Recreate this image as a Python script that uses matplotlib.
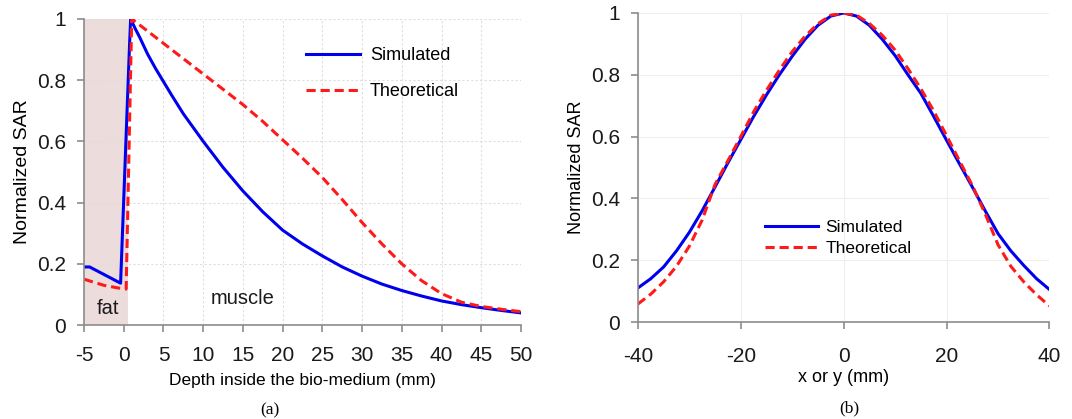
import matplotlib
matplotlib.use("Agg")
import matplotlib.pyplot as plt
from matplotlib.ticker import FuncFormatter

plt.rcParams['font.family'] = ['Liberation Sans', 'DejaVu Sans']
plt.rcParams['axes.unicode_minus'] = False

# (a) depth profile
depth_sim = [-5, -4.3, -0.4, 0.85, 1.5, 2, 3, 4, 5, 6, 7.5, 10, 12.5, 15, 17.5, 20,
             22.5, 25, 27.5, 30, 32.5, 35, 37.5, 40, 42.5, 45, 47.5, 50]
sar_sim_a = [0.19, 0.19, 0.137, 1.0, 0.965, 0.94, 0.885, 0.838, 0.795, 0.752,
             0.69, 0.60, 0.515, 0.438, 0.37, 0.31, 0.265, 0.226, 0.19, 0.16,
             0.134, 0.113, 0.095, 0.079, 0.067, 0.057, 0.048, 0.04]
depth_th = [-5, -2.5, 0.0, 0.3, 1.0, 2.5, 5, 7.5, 10, 12.5, 15, 17.5, 20, 22.5, 25,
            27.5, 30, 32.5, 35, 37.5, 40, 42.5, 45, 47.5, 50]
sar_th_a = [0.15, 0.13, 0.118, 0.118, 1.0, 0.97, 0.92, 0.87, 0.82, 0.77, 0.72,
            0.665, 0.605, 0.545, 0.482, 0.41, 0.335, 0.265, 0.20, 0.145, 0.103,
            0.075, 0.061, 0.052, 0.044]
fat_range = (-5, 0.5)

# (b) lateral profile
pos = [-40, -37.5, -35, -32.5, -30, -27.5, -25, -22.5, -20, -17.5, -15, -12.5, -10,
       -7.5, -5, -2.5, 0, 2.5, 5, 7.5, 10, 12.5, 15, 17.5, 20, 22.5, 25, 27.5, 30,
       32.5, 35, 37.5, 40]
sar_sim_b = [0.11, 0.14, 0.178, 0.23, 0.29, 0.36, 0.437, 0.515, 0.59, 0.665, 0.735,
             0.80, 0.86, 0.915, 0.96, 0.99, 1.0, 0.99, 0.96, 0.915, 0.862, 0.80,
             0.74, 0.665, 0.588, 0.512, 0.437, 0.36, 0.286, 0.23, 0.183, 0.14, 0.105]
sar_th_b = [0.058, 0.09, 0.13, 0.18, 0.245, 0.33, 0.445, 0.522, 0.60, 0.68, 0.75,
            0.815, 0.875, 0.925, 0.965, 0.993, 1.0, 0.993, 0.966, 0.928, 0.88,
            0.82, 0.755, 0.683, 0.603, 0.522, 0.442, 0.35, 0.25, 0.18, 0.13, 0.088,
            0.052]

fig = plt.figure(figsize=(10.72, 4.19), dpi=100)
ax1 = fig.add_axes([0.0784, 0.224, 0.4076, 0.731])
ax2 = fig.add_axes([0.595, 0.2315, 0.384, 0.7375])

fmt = FuncFormatter(lambda v, p: '%g' % round(v, 2))

for ax in (ax1, ax2):
    for s in ('top', 'right'):
        ax.spines[s].set_visible(False)
    for s in ('left', 'bottom'):
        ax.spines[s].set_color('#8c8c8c')
        ax.spines[s].set_linewidth(1.2)
    ax.tick_params(direction='out', length=5, width=1.2, color='#8c8c8c',
                   labelsize=15, labelcolor='#1a1a1a')
    ax.tick_params(axis='y', pad=8)
    ax.set_ylim(0, 1)
    ax.set_yticks([0, 0.2, 0.4, 0.6, 0.8, 1.0])
    ax.yaxis.set_major_formatter(fmt)
    ax.set_axisbelow(True)

# panel (a)
ax1.axvspan(*fat_range, color='#ecdcdc', lw=0, zorder=0)
ax1.plot(depth_sim, sar_sim_a, color='#0000ee', lw=2.2, label='Simulated')
ax1.plot(depth_th, sar_th_a, color='#ff1a1a', lw=2.2, ls=(0, (3, 1.6)), label='Theoretical')
ax1.set_xlim(-5, 50)
ax1.set_xticks(range(-5, 51, 5))
ax1.tick_params(axis='x', pad=10)
ax1.grid(True, color='#dedede', ls=(0, (2, 2)), lw=0.8)
ax1.set_xlabel('Depth inside the bio-medium (mm)', fontsize=12.5, labelpad=6)
ax1.set_ylabel('Normalized SAR', fontsize=14, labelpad=4)
ax1.text(-2.0, 0.035, 'fat', fontsize=14.5, ha='center', color='#1a1a1a')
ax1.text(15.0, 0.07, 'muscle', fontsize=14.5, ha='center', color='#1a1a1a')
ax1.legend(loc='upper left', bbox_to_anchor=(0.47, 0.96), frameon=False,
           fontsize=13, handlelength=3.0, labelspacing=1.05, handletextpad=0.55)
fig.text(0.252, 0.012, '(a)', fontsize=12.5, family='Liberation Serif', ha='center')

# panel (b)
ax2.plot(pos, sar_sim_b, color='#0000ee', lw=2.2, label='Simulated')
ax2.plot(pos, sar_th_b, color='#ff1a1a', lw=2.2, ls=(0, (3, 1.6)), label='Theoretical')
ax2.set_xlim(-40, 40)
ax2.set_xticks([-40, -20, 0, 20, 40])
ax2.tick_params(axis='x', pad=13)
ax2.grid(True, color='#efefef', lw=0.8)
ax2.set_xlabel('x or y (mm)', fontsize=13, labelpad=2)
ax2.set_ylabel('Normalized SAR', fontsize=13, labelpad=4)
ax2.legend(loc='upper left', bbox_to_anchor=(0.27, 0.38), frameon=False,
           fontsize=12.5, handlelength=3.1, labelspacing=0.3, handletextpad=0.4)
fig.text(0.792, 0.015, '(b)', fontsize=12.5, family='Liberation Serif', ha='center')

fig.savefig('out.png', dpi=100)
